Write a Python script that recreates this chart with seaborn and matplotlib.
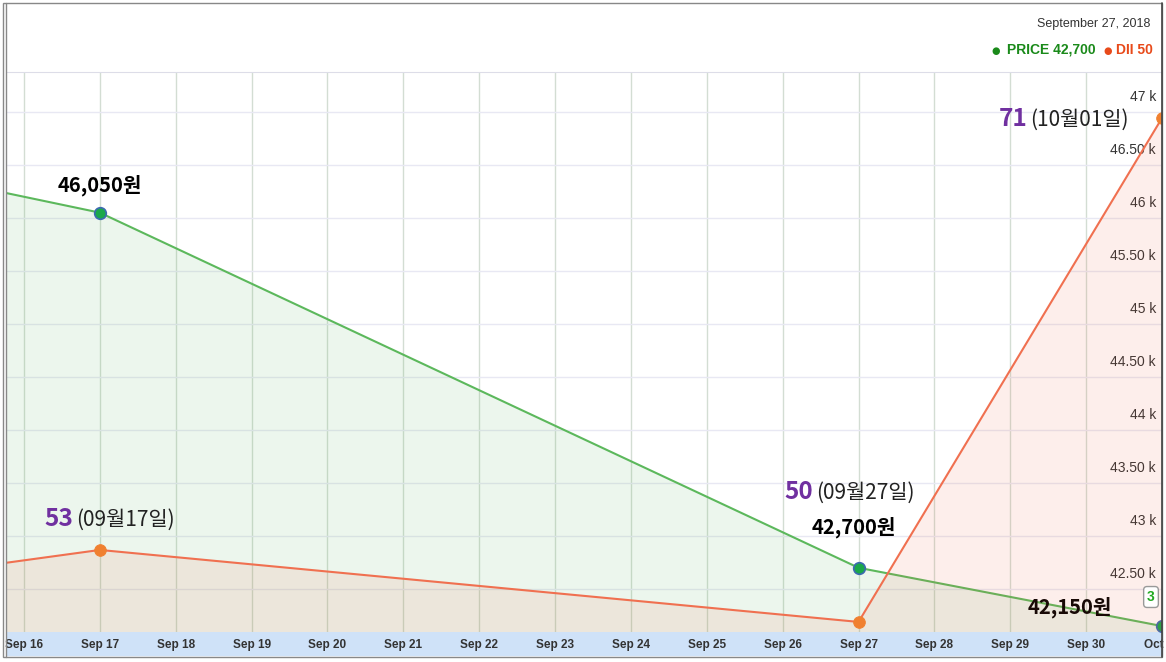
import pandas as pd
import numpy as np
import matplotlib
matplotlib.use("Agg")
import matplotlib.pyplot as plt
import matplotlib.dates as mdates
from matplotlib.patches import Rectangle
import seaborn as sns

# data
dates = pd.to_datetime(["2018-09-14", "2018-09-17", "2018-09-27", "2018-10-01"])
price = [46500, 46050, 42700, 42150]
dii = [51.7, 53, 50, 71]
price_ticks = [42500, 43000, 43500, 44000, 44500, 45000, 45500, 46000, 46500, 47000]
price_tick_labels = ["42.50 k", "43 k", "43.50 k", "44 k", "44.50 k",
                     "45 k", "45.50 k", "46 k", "46.50 k", "47 k"]
label_dates = pd.to_datetime(["2018-09-17", "2018-09-27", "2018-10-01"])
label_price = [46050, 42700, 42150]
label_dii = [53, 50, 71]
dii_dates_txt = ["(09월17일)", "(09월27일)", "(10월01일)"]

df = pd.DataFrame({"date": dates, "price": price, "dii": dii})
pts = pd.DataFrame({"date": label_dates, "price": label_price, "dii": label_dii})

sns.set_style("white")
plt.rcParams["font.family"] = ["Noto Sans CJK KR", "DejaVu Sans"]
narrow = ["Liberation Sans Narrow", "Liberation Sans", "DejaVu Sans"]

fig = plt.figure(figsize=(11.66, 6.62), dpi=100)
ax = fig.add_axes([7 / 1166, 1 - 632 / 662, (1162 - 7) / 1166, (632 - 72) / 662])
ax2 = ax.twinx()

green = "#5cb85c"
red = "#f07050"

# price
ax.fill_between(df["date"], df["price"], 40000, color="#4caf50", alpha=0.1, lw=0)
sns.lineplot(data=df, x="date", y="price", ax=ax, color=green, lw=1.5)
sns.scatterplot(data=pts, x="date", y="price", ax=ax, color="#1aa84a",
                edgecolor="#3c6ab0", linewidth=1.2, s=70, zorder=5)

# DII
ax2.fill_between(df["date"], df["dii"], 40, color="#f06040", alpha=0.1, lw=0)
sns.lineplot(data=df, x="date", y="dii", ax=ax2, color=red, lw=1.5)
sns.scatterplot(data=pts, x="date", y="dii", ax=ax2, color="#f08030",
                edgecolor="#f08030", s=70, zorder=5)

x0 = pd.Timestamp("2018-09-16") - pd.Timedelta(hours=24 * 17 / 75.9)
x1 = pd.Timestamp("2018-10-01")
ax.set_xlim(x0, x1)
ax.set_ylim(42094, 47377)
ax2.set_ylim(49.58, 72.92)

# grid
ax.set_axisbelow(True)
ax.xaxis.set_major_locator(mdates.DayLocator())
ax.xaxis.set_major_formatter(mdates.DateFormatter("%b %d"))
ax.grid(axis="x", color="#d3ddd3", lw=1)
ax.set_yticks(price_ticks)
ax.grid(axis="y", color="#e8e8f3", lw=1)
ax.tick_params(axis="y", length=0, labelleft=False, labelright=False)
ax2.set_yticks([])
ax.set_xlabel("")
ax.set_ylabel("")
ax2.set_ylabel("")

for v, t in zip(price_ticks, price_tick_labels):
    ax.annotate(t, xy=(1, v), xycoords=("axes fraction", "data"),
                xytext=(-6, 15), textcoords="offset pixels", ha="right", va="center",
                fontsize=10, color="#333333", family=narrow)

ax.tick_params(axis="x", direction="in", length=7, width=1, color="#444444",
               pad=5, labelsize=8.5, labelcolor="#333333")
for lbl in ax.get_xticklabels():
    lbl.set_family(narrow)
    lbl.set_fontweight("bold")

for a in (ax, ax2):
    for s in a.spines.values():
        s.set_visible(False)
ax.spines["top"].set_visible(True)
ax.spines["top"].set_color("#dddde8")

# x axis band
fig.patches.append(Rectangle((7 / 1166, 1 - 655 / 662), (1162 - 7) / 1166, 23 / 662,
                             transform=fig.transFigure, color="#cfe2f8", zorder=-1))
# outer frame
fig.patches.append(Rectangle((3 / 1166, 1 - 657 / 662), (1159) / 1166, 654 / 662,
                             transform=fig.transFigure, fill=False, ec="#888888", lw=1))
fig.add_artist(plt.Line2D([6 / 1166, 6 / 1166], [1 - 657 / 662, 1 - 3 / 662],
                          transform=fig.transFigure, color="#888888", lw=1))
fig.add_artist(plt.Line2D([1162 / 1166, 1162 / 1166], [1 - 657 / 662, 1 - 3 / 662],
                          transform=fig.transFigure, color="#444444", lw=1.2))

# price labels
price_offsets = [(0, 27), (-5, 41), (-92, 19)]
for d, v, off in zip(label_dates, label_price, price_offsets):
    ax.annotate(f"{v:,}원", xy=(d, v), xytext=off, textcoords="offset pixels",
                ha="center", va="center", fontsize=14.5, fontweight="bold",
                color="black", zorder=6)

# DII labels
dii_offsets = [(-27, 31), (-45, 130), (-135, -1)]
for d, v, t, off in zip(label_dates, label_dii, dii_dates_txt, dii_offsets):
    ax2.annotate(str(v), xy=(d, v), xytext=off, textcoords="offset pixels",
                 ha="right", va="center", fontsize=17.5, fontweight="bold",
                 color="#7030a0", zorder=6)
    ax2.annotate(t, xy=(d, v), xytext=(off[0] + 3, off[1] - 1), textcoords="offset pixels",
                 ha="left", va="center", fontsize=15, color="#222222", zorder=6)

# header
fig.text(1150 / 1166, 1 - 24 / 662, "September 27, 2018", ha="right", va="center",
         fontsize=9, color="#333333", family=narrow)
fig.text(1153 / 1166, 1 - 50 / 662, "DII 50", ha="right", va="center",
         fontsize=10, fontweight="bold", color="#e84a1a", family=narrow)
fig.text(1108 / 1166, 1 - 51 / 662, "●", ha="center", va="center",
         fontsize=7, color="#e84a1a", family=["DejaVu Sans"])
fig.text(1096 / 1166, 1 - 50 / 662, "PRICE 42,700", ha="right", va="center",
         fontsize=10, fontweight="bold", color="#1a8a1a", family=narrow)
fig.text(996 / 1166, 1 - 51 / 662, "●", ha="center", va="center",
         fontsize=7, color="#1a8a1a", family=["DejaVu Sans"])

# small page box
fig.text(1151 / 1166, 1 - 597 / 662, "3", ha="center", va="center", fontsize=10,
         fontweight="bold", color="#22aa22", family=narrow,
         bbox=dict(boxstyle="round,pad=0.25", fc="white", ec="#999999", lw=1))

fig.savefig("out.png", dpi=100)
